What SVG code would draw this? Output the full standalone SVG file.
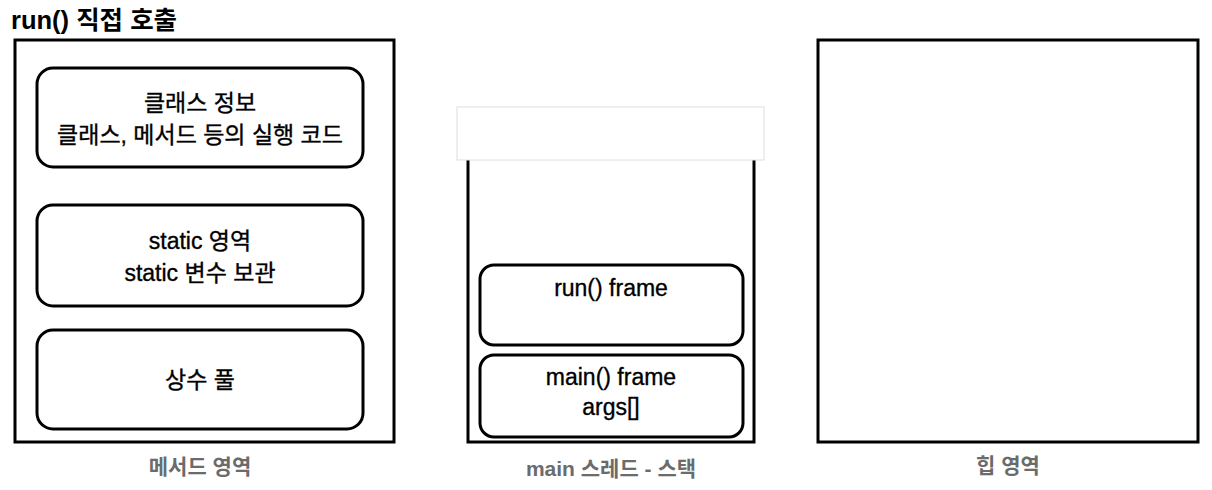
<svg xmlns="http://www.w3.org/2000/svg" width="1212" height="490" viewBox="0 0 1212 490">
<style>
text{font-family:"Liberation Sans","Noto Sans CJK KR",sans-serif;text-anchor:middle;fill:#000}
.area{fill:#fff;stroke:#000;stroke-width:3}
.box{fill:#fff;stroke:#000;stroke-width:3}
.t{font-size:23px;font-weight:normal;stroke:#000;stroke-width:0.35}
.lbl{font-size:21px;font-weight:bold;fill:#6b6b6b}
.title{font-size:25.5px;font-weight:bold;text-anchor:start}
</style>
<rect width="1212" height="490" fill="#fff"/>
<text class="title" x="11" y="29">run() 직접 호출</text>
<g id="method-area">
<rect class="area" x="15" y="40" width="379" height="402"/>
<text class="lbl" x="200" y="474">메서드 영역</text>
</g>
<g id="class-info">
<rect class="box" x="37" y="68" width="326" height="99" rx="16"/>
<text class="t" x="200" y="111">클래스 정보</text>
<text class="t" x="200" y="143">클래스, 메서드 등의 실행 코드</text>
</g>
<g id="static-area">
<rect class="box" x="37" y="205" width="326" height="101" rx="16"/>
<text class="t" x="200" y="249">static 영역</text>
<text class="t" x="200" y="281">static 변수 보관</text>
</g>
<g id="constant-pool">
<rect class="box" x="37" y="330" width="326" height="99" rx="16"/>
<text class="t" x="200" y="388">상수 풀</text>
</g>
<g id="stack">
<rect class="area" x="468" y="120" width="286" height="322"/>
<rect x="457" y="107" width="307" height="53" fill="#fff" stroke="#dedede" stroke-width="1"/>
<text class="lbl" x="611" y="476">main 스레드 - 스택</text>
</g>
<g id="run-frame">
<rect class="box" x="480" y="265" width="263" height="80" rx="14"/>
<text class="t" x="611" y="296">run() frame</text>
</g>
<g id="main-frame">
<rect class="box" x="480" y="355" width="263" height="82" rx="14"/>
<text class="t" x="611" y="385">main() frame</text>
<text class="t" x="611" y="415">args[]</text>
</g>
<g id="heap">
<rect class="area" x="818" y="40" width="380" height="402"/>
<text class="lbl" x="1008" y="473">힙 영역</text>
</g>
<g id="connectors"></g>
</svg>
